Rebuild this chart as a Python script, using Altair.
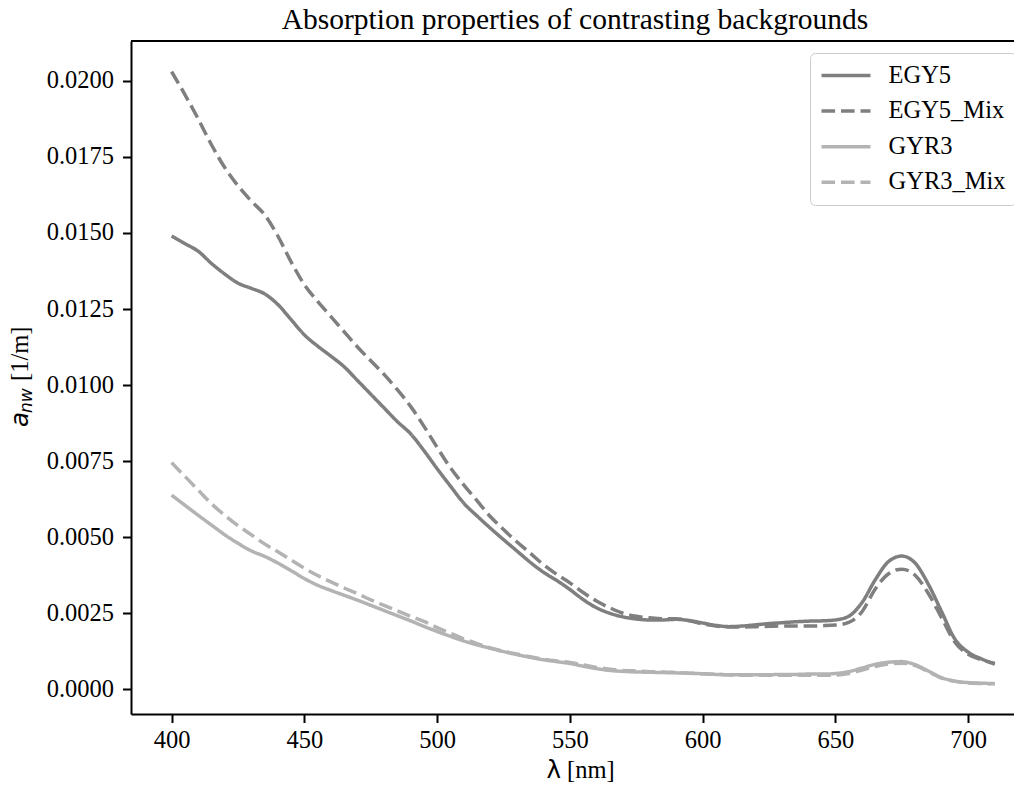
import altair as alt
import pandas as pd

wavelength = [400, 405, 410, 415, 420, 425, 430, 435, 440, 445, 450, 455, 460, 465, 470,
              475, 480, 485, 490, 495, 500, 505, 510, 515, 520, 525, 530, 535, 540, 545,
              550, 555, 560, 565, 570, 575, 580, 585, 590, 595, 600, 605, 610, 615, 620,
              625, 630, 635, 640, 645, 650, 655, 660, 665, 670, 675, 680, 685, 690, 695,
              700, 705, 710]

egy5 = [0.01490, 0.01465, 0.01440, 0.01400, 0.01365, 0.01335, 0.01318, 0.01300, 0.01265, 0.01215,
        0.01165, 0.01128, 0.01095, 0.01060, 0.01015, 0.00970, 0.00925, 0.00880, 0.00840, 0.00785,
        0.00725, 0.00668, 0.00612, 0.00570, 0.00530, 0.00492, 0.00455, 0.00418, 0.00385, 0.00358,
        0.00328, 0.00295, 0.00268, 0.00250, 0.00238, 0.00231, 0.00228, 0.00228, 0.00230, 0.00226,
        0.00218, 0.00210, 0.00206, 0.00208, 0.00212, 0.00216, 0.00219, 0.00222, 0.00224, 0.00225,
        0.00228, 0.00240, 0.00285, 0.00360, 0.00420, 0.00438, 0.00415, 0.00345, 0.00255, 0.00165,
        0.00122, 0.00100, 0.00083]

egy5_mix = [0.02030, 0.01955, 0.01875, 0.01790, 0.01715, 0.01655, 0.01605, 0.01560, 0.01490, 0.01405,
            0.01330, 0.01275, 0.01225, 0.01175, 0.01125, 0.01080, 0.01035, 0.00985, 0.00930, 0.00865,
            0.00795, 0.00728, 0.00672, 0.00620, 0.00568, 0.00525, 0.00485, 0.00448, 0.00410, 0.00378,
            0.00350, 0.00318, 0.00290, 0.00268, 0.00250, 0.00240, 0.00235, 0.00232, 0.00232, 0.00225,
            0.00215, 0.00208, 0.00205, 0.00205, 0.00206, 0.00207, 0.00208, 0.00208, 0.00208, 0.00209,
            0.00211, 0.00220, 0.00255, 0.00330, 0.00380, 0.00395, 0.00375, 0.00315, 0.00235, 0.00155,
            0.00115, 0.00097, 0.00085]

gyr3 = [0.00638, 0.00605, 0.00572, 0.00540, 0.00508, 0.00480, 0.00455, 0.00437, 0.00415, 0.00390,
        0.00364, 0.00342, 0.00325, 0.00309, 0.00293, 0.00276, 0.00259, 0.00242, 0.00225, 0.00207,
        0.00190, 0.00174, 0.00159, 0.00146, 0.00135, 0.00124, 0.00114, 0.00105, 0.00097, 0.00091,
        0.00085, 0.00076, 0.00068, 0.00062, 0.00059, 0.00057, 0.00056, 0.00055, 0.00054, 0.00053,
        0.00051, 0.00049, 0.00048, 0.00048, 0.00048, 0.00048, 0.00049, 0.00049, 0.00050, 0.00050,
        0.00052, 0.00058, 0.00070, 0.00082, 0.00089, 0.00091, 0.00081, 0.00060, 0.00038, 0.00027,
        0.00022, 0.00020, 0.00019]

gyr3_mix = [0.00745, 0.00700, 0.00655, 0.00610, 0.00572, 0.00538, 0.00508, 0.00478, 0.00452, 0.00425,
            0.00398, 0.00374, 0.00353, 0.00333, 0.00314, 0.00294, 0.00276, 0.00258, 0.00240, 0.00223,
            0.00203, 0.00184, 0.00166, 0.00150, 0.00136, 0.00125, 0.00116, 0.00107, 0.00099, 0.00093,
            0.00088, 0.00080, 0.00072, 0.00066, 0.00062, 0.00060, 0.00058, 0.00057, 0.00055, 0.00053,
            0.00051, 0.00049, 0.00047, 0.00046, 0.00046, 0.00046, 0.00046, 0.00046, 0.00046, 0.00046,
            0.00047, 0.00052, 0.00063, 0.00075, 0.00083, 0.00086, 0.00078, 0.00058, 0.00037, 0.00026,
            0.00021, 0.00019, 0.00018]

series_names = ["EGY5", "EGY5_Mix", "GYR3", "GYR3_Mix"]
series_values = [egy5, egy5_mix, gyr3, gyr3_mix]
series_colors = ["#7f7f7f", "#7f7f7f", "#b3b3b3", "#b3b3b3"]
series_dash = [[1, 0], [13.6, 5.9], [1, 0], [13.6, 5.9]]

x_ticks = [400, 450, 500, 550, 600, 650, 700]
y_ticks = [0.0, 0.0025, 0.005, 0.0075, 0.01, 0.0125, 0.015, 0.0175, 0.02]

title_text = "Absorption properties of contrasting backgrounds"

rows = []
for name, vals in zip(series_names, series_values):
    for w, v in zip(wavelength, vals):
        rows.append({"wavelength": w, "value": v, "series": name})
df = pd.DataFrame(rows)

W, H = 883, 673
SERIF = "Liberation Serif"
FS = 24.5

legend = alt.Legend(
    title=None, orient="none", legendX=679, legendY=12,
    symbolType="stroke", symbolSize=2401, symbolStrokeWidth=3.5,
    labelFont=SERIF, labelFontSize=FS, labelColor="black", labelOffset=16,
    padding=9.5, rowPadding=9.6, clipHeight=26,
    strokeColor="#cccccc", fillColor="rgba(255,255,255,0.8)", cornerRadius=5,
)

axis_common = dict(
    labelFont=SERIF, labelFontSize=FS, labelColor="black",
    tickColor="black", tickSize=8.5, tickWidth=2,
    domainColor="black", domainWidth=2, grid=False, title=None,
)

lines = alt.Chart(df).mark_line(strokeWidth=3.5, interpolate="monotone").encode(
    x=alt.X("wavelength:Q",
            scale=alt.Scale(domain=[384.7, 717.25], nice=False, zero=False),
            axis=alt.Axis(values=x_ticks, format="d", labelPadding=6, **axis_common)),
    y=alt.Y("value:Q",
            scale=alt.Scale(domain=[-0.000812, 0.02131], nice=False, zero=False),
            axis=alt.Axis(values=y_ticks, format=".4f", labelPadding=9, **axis_common)),
    color=alt.Color("series:N", scale=alt.Scale(domain=series_names, range=series_colors),
                    legend=legend),
    strokeDash=alt.StrokeDash("series:N", scale=alt.Scale(domain=series_names, range=series_dash),
                              legend=legend),
    detail="series:N",
)

top_border = alt.Chart(pd.DataFrame({"k": [0]})).mark_rule(color="black", strokeWidth=2).encode(
    x=alt.value(0), x2=alt.value(W), y=alt.value(0)
)

def label(text, x, y, font, size, italic=False, angle=0, align="left", baseline="alphabetic"):
    return alt.Chart(pd.DataFrame({"t": [text]})).mark_text(
        font=font, fontSize=size, fontStyle="italic" if italic else "normal",
        align=align, baseline=baseline, angle=angle, color="black",
    ).encode(text="t:N", x=alt.value(x), y=alt.value(y))

title_mark = label(title_text, 444, -12, SERIF, 29.5, align="center")
ylab_a = label("a", -103, 386, "DejaVu Sans", FS, italic=True, angle=270)
ylab_sub = label("nw", -99, 372, "DejaVu Sans", 17, italic=True, angle=270)
ylab_unit = label("[1/m]", -103, 340, SERIF, FS, angle=270)
xlab_l = label("λ", 415.5, 737, "DejaVu Sans", FS)
xlab_unit = label("[nm]", 436, 737, SERIF, FS)

chart = alt.layer(
    lines, top_border, title_mark, ylab_a, ylab_sub, ylab_unit, xlab_l, xlab_unit
).properties(
    width=W, height=H,
    autosize=alt.AutoSizeParams(type="none"),
    padding={"left": 123, "top": 33, "right": 0, "bottom": 68},
    background="white",
).configure_view(stroke=None)

chart.save("out.html", embed_options={"renderer": "svg", "actions": False})
